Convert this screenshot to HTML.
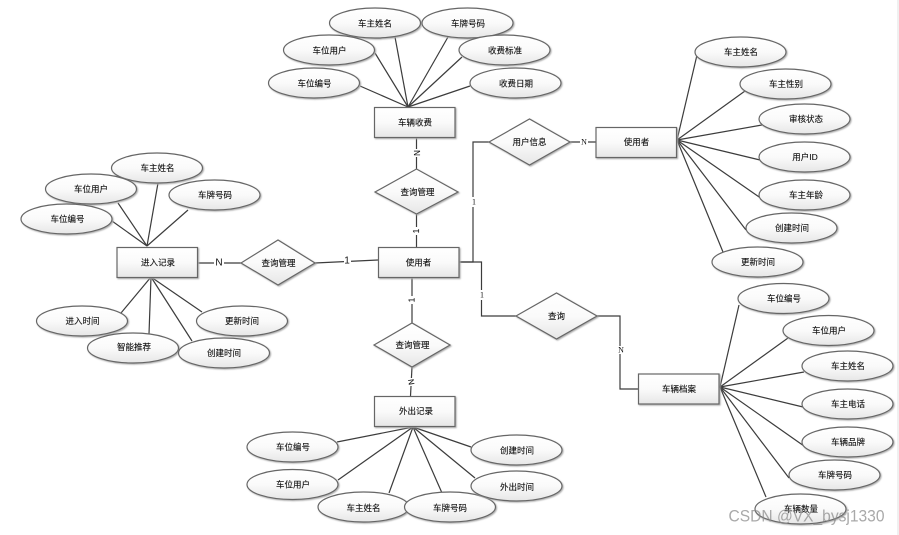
<!DOCTYPE html>
<html lang="zh">
<head>
<meta charset="utf-8">
<title>ER Diagram</title>
<style>
html,body{margin:0;padding:0;background:#fff;width:899px;height:535px;overflow:hidden}
svg{display:block}
text{font-family:"Liberation Sans","WenQuanYi Zen Hei","Noto Sans CJK SC",sans-serif;font-size:8.5px;fill:#111;text-anchor:middle;dominant-baseline:central;stroke:#111;stroke-width:.12px}
.l line,.l polyline{stroke:#3c3c3c;stroke-width:1.2;fill:none}
.s ellipse,.s rect,.s polygon{fill:url(#g);stroke:#666;stroke-width:1.2;filter:url(#sh)}
.c{font-family:"Liberation Serif",serif;font-size:8px;stroke:none}
.lb{fill:#fff;stroke:none}
</style>
</head>
<body>
<svg width="899" height="535" viewBox="0 0 899 535" xmlns="http://www.w3.org/2000/svg">
<defs>
<linearGradient id="g" x1="0" y1="0" x2="0" y2="1"><stop offset="0" stop-color="#ffffff"/><stop offset=".5" stop-color="#fafafa"/><stop offset="1" stop-color="#e6e6e6"/></linearGradient>
<filter id="sh" x="-10%" y="-10%" width="125%" height="130%"><feDropShadow dx="1" dy="1" stdDeviation=".7" flood-color="#aaa"/></filter>
</defs>
<rect x="897" y="0" width="2" height="535" fill="#f0f0f0"/>
<g class="l">
<!-- top -->
<line x1="360" y1="86" x2="408" y2="107"/><line x1="375" y1="53" x2="408" y2="107"/><line x1="395" y1="37" x2="408" y2="107"/><line x1="448" y1="37" x2="408" y2="107"/><line x1="462" y1="57" x2="408" y2="107"/><line x1="470" y1="86" x2="408" y2="107"/>
<line x1="416.5" y1="137" x2="416.5" y2="169"/><line x1="416.5" y1="214" x2="416.5" y2="247"/>
<!-- left -->
<line x1="112" y1="221" x2="147" y2="246"/><line x1="118" y1="203" x2="147" y2="246"/><line x1="158" y1="183" x2="147" y2="246"/><line x1="188" y1="210" x2="147" y2="246"/>
<line x1="121" y1="313" x2="151" y2="277"/><line x1="149" y1="334" x2="151" y2="277"/><line x1="192" y1="341" x2="151" y2="277"/><line x1="202" y1="312" x2="151" y2="277"/>
<line x1="197" y1="263" x2="241" y2="263"/><line x1="315" y1="263" x2="378" y2="260"/>
<!-- center -->
<line x1="412" y1="277" x2="412" y2="323"/><line x1="412" y1="367" x2="410.5" y2="396"/>
<polyline points="459,262 473,262 473,142 489,142"/>
<polyline points="459,262 481.5,262 481.5,316 516,316"/>
<polyline points="597,316 620,316 620,389 638,389"/>
<line x1="570" y1="142" x2="596" y2="142"/>
<!-- bottom -->
<line x1="337" y1="442" x2="413" y2="427"/><line x1="338" y1="480" x2="413" y2="427"/><line x1="389" y1="493" x2="413" y2="427"/><line x1="442" y1="493" x2="413" y2="427"/><line x1="475" y1="478" x2="413" y2="427"/><line x1="471" y1="447" x2="413" y2="427"/>
<!-- right user -->
<line x1="677" y1="140" x2="697" y2="55"/><line x1="677" y1="140" x2="745" y2="91"/><line x1="677" y1="140" x2="762" y2="125"/><line x1="677" y1="140" x2="760" y2="160"/><line x1="677" y1="140" x2="762" y2="199"/><line x1="677" y1="140" x2="746" y2="230"/><line x1="677" y1="140" x2="723" y2="252"/>
<!-- right vehicle -->
<line x1="720" y1="387" x2="739" y2="305"/><line x1="720" y1="387" x2="788" y2="338"/><line x1="720" y1="387" x2="804" y2="372"/><line x1="720" y1="387" x2="803" y2="407"/><line x1="720" y1="387" x2="804" y2="446"/><line x1="720" y1="387" x2="789" y2="478"/><line x1="720" y1="387" x2="766" y2="497"/>
</g>
<g class="s">
<rect x="374.5" y="107.5" width="80.5" height="30"/>
<rect x="378.5" y="247.5" width="80.5" height="30"/>
<rect x="117" y="247.5" width="80.5" height="30"/>
<rect x="374.5" y="396.5" width="80.5" height="30"/>
<rect x="596" y="127.5" width="80.5" height="30"/>
<rect x="638.5" y="374" width="80.5" height="30"/>
<polygon points="375,192 416.5,169 458,192 416.5,214"/>
<polygon points="241,263 278,240 315,263 278,285"/>
<polygon points="374,345 412,323 450,345 412,367"/>
<polygon points="489,142 529.5,119 570,142 529.5,165"/>
<polygon points="516,316 556.5,293 597,316 556.5,339"/>
<ellipse cx="375" cy="23" rx="45.5" ry="15"/>
<ellipse cx="467.5" cy="23" rx="45.5" ry="15"/>
<ellipse cx="329" cy="50" rx="45.5" ry="15"/>
<ellipse cx="504.5" cy="50" rx="45.5" ry="15"/>
<ellipse cx="314" cy="83" rx="45.5" ry="15"/>
<ellipse cx="515.5" cy="83" rx="45.5" ry="15"/>
<ellipse cx="157" cy="168" rx="45.5" ry="15"/>
<ellipse cx="91" cy="189" rx="45.5" ry="15"/>
<ellipse cx="214.5" cy="195" rx="45.5" ry="15"/>
<ellipse cx="66.5" cy="219" rx="45.5" ry="15"/>
<ellipse cx="82" cy="321" rx="45.5" ry="15"/>
<ellipse cx="133" cy="348" rx="45.5" ry="15"/>
<ellipse cx="242" cy="321" rx="45.5" ry="15"/>
<ellipse cx="224" cy="353" rx="45.5" ry="15"/>
<ellipse cx="292.5" cy="447" rx="45.5" ry="15"/>
<ellipse cx="292.5" cy="484.5" rx="45.5" ry="15"/>
<ellipse cx="363.5" cy="507" rx="45.5" ry="15"/>
<ellipse cx="450" cy="507" rx="45.5" ry="15"/>
<ellipse cx="516.5" cy="450" rx="45.5" ry="15"/>
<ellipse cx="516.5" cy="486" rx="45.5" ry="15"/>
<ellipse cx="740.5" cy="52" rx="45.5" ry="15"/>
<ellipse cx="785.5" cy="84" rx="45.5" ry="15"/>
<ellipse cx="804.5" cy="119" rx="45.5" ry="15"/>
<ellipse cx="804.5" cy="157" rx="45.5" ry="15"/>
<ellipse cx="804.5" cy="195" rx="45.5" ry="15"/>
<ellipse cx="791.5" cy="228" rx="45.5" ry="15"/>
<ellipse cx="757.5" cy="262" rx="45.5" ry="15"/>
<ellipse cx="783.5" cy="298.5" rx="45.5" ry="15"/>
<ellipse cx="828.5" cy="330.5" rx="45.5" ry="15"/>
<ellipse cx="847.5" cy="366" rx="45.5" ry="15"/>
<ellipse cx="847.5" cy="404" rx="45.5" ry="15"/>
<ellipse cx="847.5" cy="442" rx="45.5" ry="15"/>
<ellipse cx="834.5" cy="475" rx="45.5" ry="15"/>
<ellipse cx="800.5" cy="509" rx="45.5" ry="15"/>
</g>
<!-- connector label backgrounds -->
<rect class="lb" x="411" y="149" width="11" height="8"/>
<rect class="lb" x="411" y="227" width="11" height="8"/>
<rect class="lb" x="214" y="258" width="10" height="10"/>
<rect class="lb" x="344" y="256" width="7" height="10"/>
<rect class="lb" x="407" y="296" width="10" height="8"/>
<rect class="lb" x="406" y="378" width="10" height="8"/>
<rect class="lb" x="471" y="197" width="6" height="10"/>
<rect class="lb" x="479" y="290" width="6" height="10"/>
<rect class="lb" x="580" y="138" width="8" height="8"/>
<rect class="lb" x="617" y="346" width="6" height="8"/>
<!-- connector labels -->
<text transform="translate(416.5,153) rotate(90)" style="font-size:8px">N</text>
<text transform="translate(416.5,231) rotate(-90)" style="font-size:8px">1</text>
<text x="219" y="263" style="font-size:10px;stroke:none">N</text>
<text x="347" y="261" style="font-size:10px;stroke:none">1</text>
<text transform="translate(412,300) rotate(-90)" style="font-size:8px">1</text>
<text transform="translate(411,382) rotate(80)" style="font-size:8px">N</text>
<text class="c" x="474" y="202">1</text>
<text class="c" x="482" y="295">1</text>
<text class="c" x="584" y="142">N</text>
<text class="c" x="621" y="350">N</text>
<!-- node labels -->
<text x="415" y="122.5">车辆收费</text>
<text x="418.5" y="262.5">使用者</text>
<text x="158" y="262.5">进入记录</text>
<text x="416" y="411">外出记录</text>
<text x="636.5" y="142">使用者</text>
<text x="679" y="389">车辆档案</text>
<text x="417.5" y="192">查询管理</text>
<text x="278.5" y="263">查询管理</text>
<text x="412.5" y="345">查询管理</text>
<text x="529.5" y="142">用户信息</text>
<text x="556.5" y="316">查询</text>
<text x="375" y="23.5">车主姓名</text>
<text x="468" y="23.5">车牌号码</text>
<text x="329.5" y="50.5">车位用户</text>
<text x="505" y="50.5">收费标准</text>
<text x="314.5" y="83.5">车位编号</text>
<text x="516" y="83.5">收费日期</text>
<text x="157.5" y="168">车主姓名</text>
<text x="91" y="189">车位用户</text>
<text x="215" y="195">车牌号码</text>
<text x="67.5" y="219">车位编号</text>
<text x="82.5" y="321">进入时间</text>
<text x="134" y="347">智能推荐</text>
<text x="242" y="321">更新时间</text>
<text x="224" y="353">创建时间</text>
<text x="293" y="447">车位编号</text>
<text x="293" y="484.5">车位用户</text>
<text x="363.5" y="508">车主姓名</text>
<text x="450" y="508">车牌号码</text>
<text x="517" y="450.5">创建时间</text>
<text x="517" y="487">外出时间</text>
<text x="741" y="52">车主姓名</text>
<text x="786" y="84">车主性别</text>
<text x="806" y="119">审核状态</text>
<text x="805" y="157">用户ID</text>
<text x="806" y="195">车主年龄</text>
<text x="792" y="228">创建时间</text>
<text x="758" y="262">更新时间</text>
<text x="784" y="298.5">车位编号</text>
<text x="829" y="330.5">车位用户</text>
<text x="848" y="366">车主姓名</text>
<text x="848" y="404">车主电话</text>
<text x="848" y="442">车辆品牌</text>
<text x="835" y="475">车牌号码</text>
<text x="801" y="509">车辆数量</text>
<text x="806.5" y="516" style="font-family:'Liberation Sans',sans-serif;font-size:17px;fill:#8c8c8c;fill-opacity:.75;stroke:none" textLength="156" lengthAdjust="spacingAndGlyphs">CSDN @VX_bysj1330</text>
</svg>
</body>
</html>
